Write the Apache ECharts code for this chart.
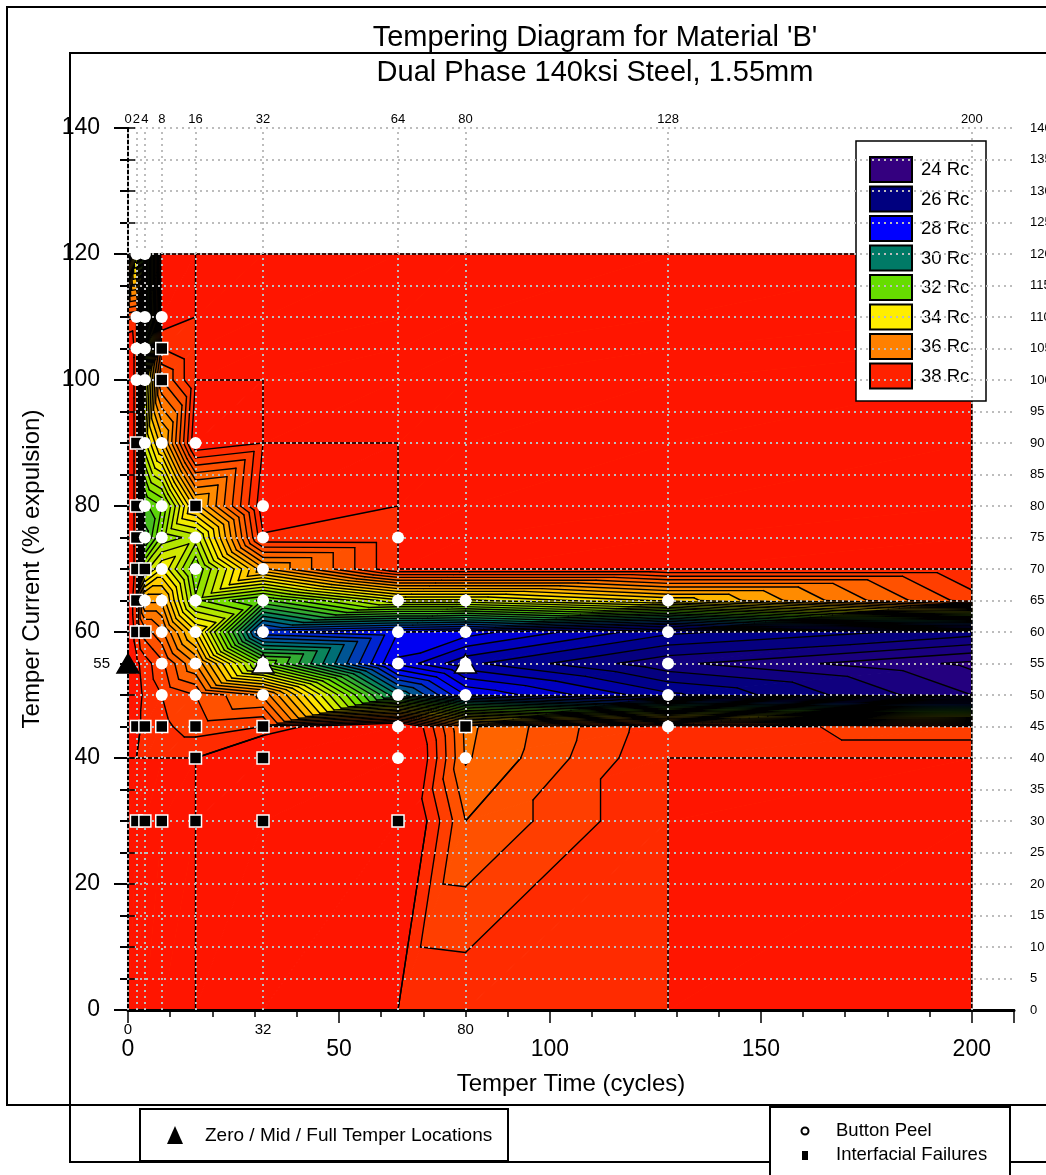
<!DOCTYPE html>
<html>
<head>
<meta charset="utf-8">
<title>Tempering Diagram for Material 'B'</title>
<script src="https://cdn.jsdelivr.net/npm/echarts@6/dist/echarts.min.js"></script>
<style>
  html, body { margin: 0; padding: 0; background: #fff; }
  #chart { width: 1046px; height: 1175px; }
</style>
</head>
<body>
<div id="chart"></div>
<script>
// measurement grid: temper time (cycles) x temper current (% expulsion)
const TIMES = [0, 2, 4, 8, 16, 32, 64, 80, 128, 200];
const CURRENTS = [0, 30, 40, 45, 50, 55, 60, 65, 70, 75, 80, 90, 100, 105, 110, 120];

// hardness (Rc) per time column, listed bottom (0%) to top (120%)
const HARDNESS = [
  [38, 38, 38, 38.5, 38.5, 38.5, 38.5, 38.5, 38.5, 38.5, 38.5, 38.5, 38.5, 38.5, 37.5, 36],   // t=0
  [38, 38, 38, 38.1, 38.2, 38.1, 37.8, 37.6, 37.8, 37.8, 37.8, 37.8, 37.8, 37.8, 37.6, 33],   // t=2
  [38, 38, 38, 37.9, 37.9, 37.8, 37, 35.5, 33, 31, 31.5, 33.5, 33, 31, 30, 30],               // t=4
  [38, 38, 38, 37.7, 37.6, 37.3, 36.5, 35.5, 34, 32.5, 32, 35, 36.8, 37.6, 38.3, 38.5],       // t=8
  [38, 38, 38, 37.4, 37.2, 36, 34.5, 32.5, 32, 33, 35, 38.4, 38, 38, 38, 38],                 // t=16
  [39, 39, 39, 37.6, 36.3, 32, 28.5, 31.5, 35.5, 37.95, 38.3, 38, 38, 38, 38, 38],            // t=32
  [38, 38.9, 39.3, 39, 30, 27.5, 28, 33.5, 38, 38, 38, 38, 38, 38, 38, 38],                   // t=64
  [37.95, 36.8, 36.35, 36.3, 28, 26.5, 27.8, 33.5, 38, 38, 38, 38, 38, 38, 38, 38],           // t=80
  [38, 38, 38, 37.9, 26.5, 25.3, 26.5, 34.5, 38, 38, 38, 38, 38, 38, 38, 38],                 // t=128
  [38, 38, 38, 37.3, 24.8, 24.3, 25.8, 37.4, 38, 38, 38, 38, 38, 38, 38, 38]                  // t=200
];

const BUTTON_PEEL = [
  [2, 120], [4, 120],
  [2, 110], [4, 110], [8, 110],
  [2, 105], [4, 105],
  [2, 100], [4, 100],
  [4, 90], [8, 90], [16, 90],
  [4, 80], [8, 80], [32, 80],
  [4, 75], [8, 75], [16, 75], [32, 75], [64, 75],
  [8, 70], [16, 70], [32, 70],
  [4, 65], [8, 65], [16, 65], [32, 65], [64, 65], [80, 65], [128, 65],
  [8, 60], [16, 60], [32, 60], [64, 60], [80, 60], [128, 60],
  [8, 55], [16, 55], [32, 55], [64, 55], [80, 55], [128, 55],
  [8, 50], [16, 50], [32, 50], [64, 50], [80, 50], [128, 50],
  [64, 45], [128, 45],
  [64, 40], [80, 40]
];
const INTERFACIAL = [
  [8, 105], [8, 100],
  [2, 90], [2, 80], [16, 80], [2, 75],
  [2, 70], [4, 70], [2, 65], [2, 60], [4, 60],
  [2, 45], [4, 45], [8, 45], [16, 45], [32, 45], [80, 45],
  [16, 40], [32, 40],
  [2, 30], [4, 30], [8, 30], [16, 30], [32, 30], [64, 30]
];
const TEMPER_LOCATIONS = [[0, 55], [32, 55], [80, 55]];
const TEMPER_TICKS = [0, 32, 80];
const TEMPER_CURRENT = [55];

const LEGEND_LEVELS = [24, 26, 28, 30, 32, 34, 36, 38];
const LEGEND_COLORS = ['#34007f', '#00007f', '#0000ff', '#007a66', '#66dd00', '#ffee00', '#ff8000', '#ff2200'];
const ABOVE_COLOR = '#ff1500';
const STEP = 0.4;

const FONT = 'Liberation Sans, Arial, sans-serif';

// contour levels across the legend range
const LEVELS = [];
const lowLevel = LEGEND_LEVELS[0], highLevel = LEGEND_LEVELS[LEGEND_LEVELS.length - 1];
for (let k = 0; lowLevel + k * STEP <= highLevel + 1e-9; k++) {
  LEVELS.push(Math.round((lowLevel + k * STEP) * 100) / 100);
}
const BAND_EDGES = [-Infinity].concat(LEVELS, [Infinity]);

function hexToRgb(h) {
  return [parseInt(h.slice(1, 3), 16), parseInt(h.slice(3, 5), 16), parseInt(h.slice(5, 7), 16)];
}
function rampColor(v) {
  if (v <= LEGEND_LEVELS[0]) return LEGEND_COLORS[0];
  for (let k = 0; k < LEGEND_LEVELS.length - 1; k++) {
    if (v <= LEGEND_LEVELS[k + 1]) {
      const t = (v - LEGEND_LEVELS[k]) / (LEGEND_LEVELS[k + 1] - LEGEND_LEVELS[k]);
      const a = hexToRgb(LEGEND_COLORS[k]), b = hexToRgb(LEGEND_COLORS[k + 1]);
      return 'rgb(' + a.map((c, n) => Math.round(c + t * (b[n] - c))).join(',') + ')';
    }
  }
  return LEGEND_COLORS[LEGEND_COLORS.length - 1];
}
function bandColor(lo, hi) {
  if (hi === Infinity) return ABOVE_COLOR;
  if (lo === -Infinity) return LEGEND_COLORS[0];
  return rampColor((lo + hi) / 2);
}

// split a grid cell into two triangles [time, current, hardness]
function cellTriangles(i, j) {
  const p = (a, b) => [TIMES[a], CURRENTS[b], HARDNESS[a][b]];
  const p00 = p(i, j), p10 = p(i + 1, j), p11 = p(i + 1, j + 1), p01 = p(i, j + 1);
  return [[p00, p10, p11], [p00, p11, p01]];
}

function clipPoly(pts, level, keepAbove) {
  const out = [];
  for (let k = 0; k < pts.length; k++) {
    const p = pts[k], q = pts[(k + 1) % pts.length];
    const pin = keepAbove ? p[2] >= level : p[2] <= level;
    const qin = keepAbove ? q[2] >= level : q[2] <= level;
    if (pin) out.push(p);
    if (pin !== qin) {
      const t = (level - p[2]) / (q[2] - p[2]);
      out.push([p[0] + t * (q[0] - p[0]), p[1] + t * (q[1] - p[1]), level]);
    }
  }
  return out;
}

function polyArea(px) {
  let s = 0;
  for (let k = 0; k < px.length; k++) {
    const a = px[k], b = px[(k + 1) % px.length];
    s += a[0] * b[1] - b[0] * a[1];
  }
  return Math.abs(s) / 2;
}

function isoSegment(tri, level, strict) {
  const above = tri.map(p => strict ? p[2] > level : p[2] >= level);
  const n = above.filter(Boolean).length;
  if (n === 0 || n === 3) return null;
  const pts = [];
  for (let k = 0; k < 3; k++) {
    const p = tri[k], q = tri[(k + 1) % 3];
    if (above[k] !== above[(k + 1) % 3]) {
      const t = (level - p[2]) / (q[2] - p[2]);
      pts.push([p[0] + t * (q[0] - p[0]), p[1] + t * (q[1] - p[1])]);
    }
  }
  return pts.length === 2 ? pts : null;
}

const cells = [];
for (let i = 0; i < TIMES.length - 1; i++) {
  for (let j = 0; j < CURRENTS.length - 1; j++) {
    cells.push([TIMES[i], CURRENTS[j], i, j]);
  }
}

function renderFill(params, api) {
  const i = api.value(2), j = api.value(3);
  const children = [];
  cellTriangles(i, j).forEach(tri => {
    for (let b = 0; b < BAND_EDGES.length - 1; b++) {
      const lo = BAND_EDGES[b], hi = BAND_EDGES[b + 1];
      let poly = tri;
      if (isFinite(lo)) poly = clipPoly(poly, lo, true);
      if (poly.length >= 3 && isFinite(hi)) poly = clipPoly(poly, hi, false);
      if (poly.length < 3) continue;
      const px = poly.map(p => api.coord([p[0], p[1]]));
      if (polyArea(px) < 0.05) continue;
      const color = bandColor(lo, hi);
      children.push({
        type: 'polygon',
        shape: { points: px },
        style: { fill: color, stroke: color, lineWidth: 1 }
      });
    }
  });
  return { type: 'group', children: children };
}

function renderLines(params, api) {
  const i = api.value(2), j = api.value(3);
  const children = [];
  const addLine = (a, b, w) => {
    const pa = api.coord(a), pb = api.coord(b);
    if (Math.hypot(pa[0] - pb[0], pa[1] - pb[1]) < 0.3) return;
    children.push({
      type: 'line',
      shape: { x1: pa[0], y1: pa[1], x2: pb[0], y2: pb[1] },
      style: { stroke: '#000', lineWidth: w, lineCap: 'round' }
    });
  };
  const same = (s, r) => s[0][0] === r[0][0] && s[0][1] === r[0][1] && s[1][0] === r[1][0] && s[1][1] === r[1][1];
  cellTriangles(i, j).forEach(tri => {
    LEVELS.forEach(level => {
      const s1 = isoSegment(tri, level, false);
      const s2 = isoSegment(tri, level, true);
      if (s1) addLine(s1[0], s1[1], 1.4);
      if (s2 && !(s1 && same(s1, s2))) addLine(s2[0], s2[1], 1.4);
    });
  });
  // outline of the measured domain
  const t0 = TIMES[i], t1 = TIMES[i + 1], c0 = CURRENTS[j], c1 = CURRENTS[j + 1];
  if (j === CURRENTS.length - 2) addLine([t0, c1], [t1, c1], 1.5);
  if (i === TIMES.length - 2) addLine([t1, c0], [t1, c1], 1.5);
  return { type: 'group', children: children };
}

// legend swatches and boxes (layout only)
const graphic = [
  { type: 'rect', z: 0, shape: { x: 7, y: 7, width: 1200, height: 1098 }, style: { fill: 'none', stroke: '#000', lineWidth: 2 } },
  { type: 'rect', z: 0, shape: { x: 70, y: 53, width: 1200, height: 1109 }, style: { fill: 'none', stroke: '#000', lineWidth: 2 } },
  { type: 'rect', z: 2.5, shape: { x: 856, y: 141, width: 130, height: 260 }, style: { fill: '#fff', stroke: '#000', lineWidth: 1.5 } }
];
LEGEND_LEVELS.forEach((lv, k) => {
  const y = 157 + k * 29.5;
  graphic.push({ type: 'rect', z: 2.6, shape: { x: 870, y: y, width: 42, height: 25 }, style: { fill: LEGEND_COLORS[k], stroke: '#000', lineWidth: 2 } });
  graphic.push({ type: 'text', z: 2.6, x: 921, y: y + 13, style: { text: lv + ' Rc', font: '18.5px ' + FONT, fill: '#000', textVerticalAlign: 'middle', verticalAlign: 'middle' } });
});
graphic.push(
  { type: 'rect', z: 0, shape: { x: 140, y: 1109, width: 368, height: 52 }, style: { fill: '#fff', stroke: '#000', lineWidth: 2 } },
  { type: 'polygon', z: 0, shape: { points: [[175, 1126], [167, 1144], [183, 1144]] }, style: { fill: '#000' } },
  { type: 'text', z: 0, x: 205, y: 1136, style: { text: 'Zero / Mid / Full Temper Locations', font: '19px ' + FONT, fill: '#000', verticalAlign: 'middle', textVerticalAlign: 'middle' } },
  { type: 'rect', z: 0, shape: { x: 770, y: 1107, width: 240, height: 90 }, style: { fill: '#fff', stroke: '#000', lineWidth: 2 } },
  { type: 'circle', z: 0, shape: { cx: 805, cy: 1131, r: 3.5 }, style: { fill: '#fff', stroke: '#000', lineWidth: 2 } },
  { type: 'text', z: 0, x: 836, y: 1131, style: { text: 'Button Peel', font: '18.5px ' + FONT, fill: '#000', verticalAlign: 'middle', textVerticalAlign: 'middle' } },
  { type: 'rect', z: 0, shape: { x: 802, y: 1151, width: 6, height: 9 }, style: { fill: '#000' } },
  { type: 'text', z: 0, x: 836, y: 1155, style: { text: 'Interfacial Failures', font: '18.5px ' + FONT, fill: '#000', verticalAlign: 'middle', textVerticalAlign: 'middle' } }
);

const gridDots = { color: '#bdbdbd', width: 2, type: [2, 4] };

const chart = echarts.init(document.getElementById('chart'), null, { renderer: 'canvas' });
chart.setOption({
  animation: false,
  backgroundColor: '#fff',
  textStyle: { fontFamily: FONT },
  title: {
    text: "Tempering Diagram for Material 'B'\nDual Phase 140ksi Steel, 1.55mm",
    left: 590,
    top: 15,
    textAlign: 'center',
    textStyle: { fontSize: 29, fontWeight: 'normal', color: '#000', lineHeight: 35, fontFamily: FONT }
  },
  grid: { left: 128, right: 32, top: 128, bottom: 165, containLabel: false, outerBoundsMode: 'none' },
  graphic: graphic,
  xAxis: [
    {
      type: 'value', position: 'bottom', min: 0, max: 210, interval: 10, z: 3,
      name: 'Temper Time (cycles)', nameLocation: 'middle', nameGap: 62,
      nameTextStyle: { fontSize: 24, color: '#000', fontFamily: FONT },
      axisLine: { show: true, lineStyle: { color: '#000', width: 2 } },
      axisTick: { show: true, length: 7, lineStyle: { color: '#000', width: 1.5 } },
      axisLabel: { fontSize: 23, color: '#000', margin: 28, formatter: v => (v % 50 === 0 && v <= 200) ? String(v) : '' },
      splitLine: { show: false }
    },
    {
      type: 'value', position: 'bottom', min: 0, max: 210, interval: 50, z: 3,
      axisLine: { show: false },
      axisTick: { show: true, length: 13, lineStyle: { color: '#000', width: 1.5 } },
      axisLabel: { fontSize: 15, color: '#000', margin: 12, customValues: TEMPER_TICKS },
      splitLine: { show: false }
    },
    {
      type: 'value', position: 'top', min: 0, max: 210, z: 3,
      axisLine: { show: true, lineStyle: { color: '#000', width: 3 } },
      axisTick: { show: false },
      axisLabel: { fontSize: 13, color: '#000', margin: 2, customValues: TIMES },
      splitLine: { show: false }
    }
  ],
  yAxis: [
    {
      type: 'value', position: 'left', min: 0, max: 140, interval: 20, z: 3,
      name: 'Temper Current (% expulsion)', nameLocation: 'middle', nameGap: 84,
      nameTextStyle: { fontSize: 24, color: '#000', fontFamily: FONT },
      axisLine: { show: true, lineStyle: { color: '#000', width: 2 } },
      axisTick: { show: true, length: 14, lineStyle: { color: '#000', width: 2 } },
      minorTick: { show: true, splitNumber: 4, length: 8, lineStyle: { color: '#000', width: 2 } },
      axisLabel: { fontSize: 23, color: '#000', margin: 28 },
      splitLine: { show: false }
    },
    {
      type: 'value', position: 'left', min: 0, max: 140, z: 3,
      axisLine: { show: false }, axisTick: { show: false },
      axisLabel: { fontSize: 15, color: '#000', margin: 18, customValues: TEMPER_CURRENT },
      splitLine: { show: false }
    },
    {
      type: 'value', position: 'right', min: 0, max: 140, interval: 5, z: 3,
      axisLine: { show: true, lineStyle: { color: '#000', width: 2 } },
      axisTick: { show: true, length: 7, lineStyle: { color: '#000', width: 1.5 } },
      axisLabel: { fontSize: 13, color: '#000', margin: 16 },
      splitLine: { show: true, lineStyle: gridDots }
    }
  ],
  series: [
    {
      type: 'custom', name: 'hardness', xAxisIndex: 0, yAxisIndex: 0, z: 1, silent: true,
      data: cells, encode: { x: 0, y: 1 }, renderItem: renderFill
    },
    {
      type: 'custom', name: 'contours', xAxisIndex: 0, yAxisIndex: 0, z: 2, silent: true,
      data: cells, encode: { x: 0, y: 1 }, renderItem: renderLines
    },
    {
      type: 'line', name: 'time grid', xAxisIndex: 0, yAxisIndex: 0, data: [], silent: true,
      markLine: {
        silent: true, symbol: 'none', z: 4, animation: false,
        label: { show: false },
        lineStyle: gridDots,
        emphasis: { disabled: true },
        data: TIMES.map(t => ({ xAxis: t }))
      }
    },
    {
      type: 'scatter', name: 'Zero / Mid / Full Temper Locations', xAxisIndex: 0, yAxisIndex: 0,
      data: TEMPER_LOCATIONS, symbol: 'triangle', symbolSize: [22, 19], z: 6, clip: false, silent: true,
      itemStyle: { opacity: 1, color: p => p.value[0] === 0 ? '#000' : '#fff', borderColor: '#000', borderWidth: 1.5 }
    },
    {
      type: 'scatter', name: 'Interfacial Failures', xAxisIndex: 0, yAxisIndex: 0,
      data: INTERFACIAL, symbol: 'rect', symbolSize: 12, z: 7, silent: true,
      itemStyle: { opacity: 1, color: '#000', borderColor: '#fff', borderWidth: 1.5 }
    },
    {
      type: 'scatter', name: 'Button Peel', xAxisIndex: 0, yAxisIndex: 0,
      data: BUTTON_PEEL, symbol: 'circle', symbolSize: 12, z: 8, silent: true,
      itemStyle: { opacity: 1, color: '#fff' }
    }
  ]
});
</script>
</body>
</html>
